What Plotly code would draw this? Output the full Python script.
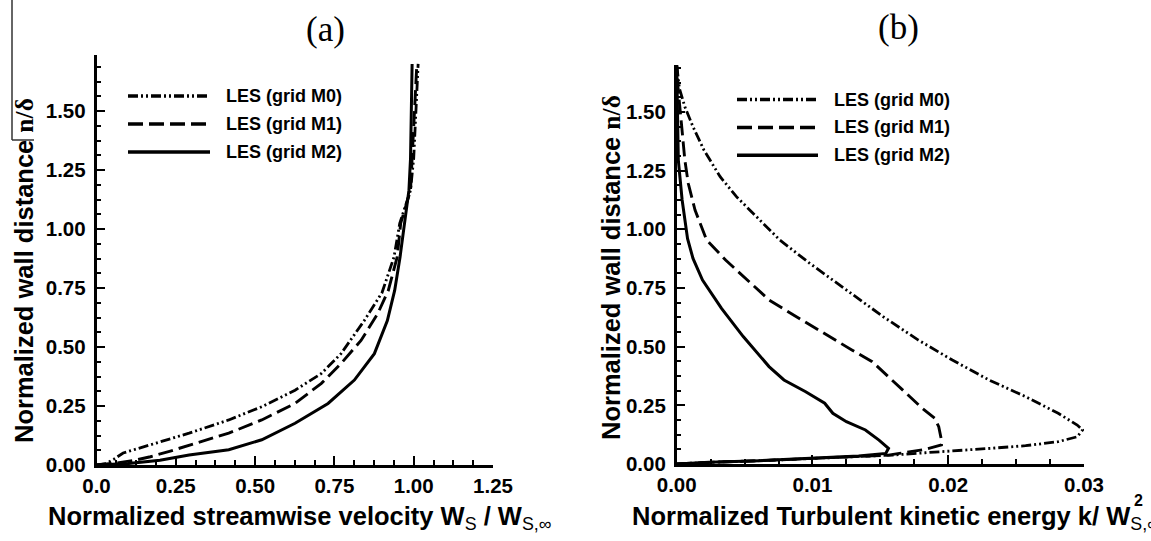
import plotly.graph_objects as go

# ---------------- data: panel (a) streamwise velocity profiles ----------------
a_m0_x = [0, 0.03, 0.055, 0.084, 0.188, 0.292, 0.417, 0.521, 0.626, 0.709, 0.771, 0.844, 0.9, 0.938, 0.956, 0.99, 1.0, 1.008, 1.014]
a_m0_y = [0, 0.006, 0.025, 0.051, 0.093, 0.135, 0.191, 0.247, 0.317, 0.388, 0.472, 0.612, 0.73, 0.882, 1.024, 1.165, 1.30, 1.5, 1.70]

a_m1_x = [0, 0.06, 0.12, 0.17, 0.23, 0.313, 0.417, 0.521, 0.626, 0.709, 0.771, 0.834, 0.886, 0.92, 0.948, 0.959, 0.99, 0.995, 1.003, 1.01]
a_m1_y = [0, 0.008, 0.02, 0.035, 0.058, 0.093, 0.135, 0.191, 0.261, 0.346, 0.43, 0.528, 0.64, 0.74, 0.882, 1.024, 1.165, 1.30, 1.5, 1.70]

a_m2_x = [0, 0.1, 0.2, 0.292, 0.417, 0.521, 0.626, 0.73, 0.813, 0.876, 0.917, 0.94, 0.957, 0.971, 0.985, 0.99, 0.992, 0.995]
a_m2_y = [0, 0.006, 0.02, 0.042, 0.065, 0.107, 0.177, 0.261, 0.36, 0.472, 0.612, 0.74, 0.882, 1.024, 1.165, 1.30, 1.5, 1.70]

# ---------------- data: panel (b) turbulent kinetic energy profiles ----------------
b_m0_k = [0, 0.0024, 0.0061, 0.0098, 0.0134, 0.0159, 0.0183, 0.0208, 0.0232, 0.0257, 0.0281, 0.0295, 0.0299,
          0.0295, 0.0281, 0.0257, 0.023, 0.0203, 0.0178, 0.0152, 0.0125, 0.0098, 0.0076, 0.0059, 0.0044,
          0.0032, 0.002, 0.0012, 0.0006, 0.0002, 0]
b_m0_y = [0, 0.007, 0.014, 0.023, 0.031, 0.038, 0.048, 0.057, 0.067, 0.078, 0.095, 0.116, 0.145,
          0.166, 0.216, 0.287, 0.358, 0.443, 0.528, 0.628, 0.741, 0.855, 0.954, 1.054, 1.139,
          1.224, 1.338, 1.437, 1.522, 1.6, 1.70]

b_m1_k = [0, 0.0024, 0.0061, 0.0098, 0.0134, 0.0156, 0.0164, 0.0183, 0.0195, 0.0195, 0.0193, 0.019, 0.0181,
          0.0169, 0.0156, 0.0144, 0.0129, 0.011, 0.009, 0.0068, 0.0053, 0.0036, 0.0022, 0.0019, 0.00135,
          0.00085, 0.0006, 0.00037, 0.0001, 0]
b_m1_y = [0, 0.007, 0.014, 0.024, 0.031, 0.038, 0.045, 0.0625, 0.081, 0.102, 0.159, 0.195, 0.237,
          0.301, 0.372, 0.436, 0.486, 0.55, 0.621, 0.699, 0.777, 0.869, 0.955, 0.997, 1.082,
          1.196, 1.295, 1.437, 1.6, 1.70]

b_m2_k = [0, 0.0024, 0.0061, 0.0098, 0.0134, 0.0154, 0.0156, 0.0149, 0.0139, 0.0125, 0.0115, 0.0109, 0.0095,
          0.0079, 0.0068, 0.0049, 0.0033, 0.0019, 0.0012, 0.0008, 0.0004, 0.00012, 0.00004, 0]
b_m2_y = [0, 0.007, 0.014, 0.024, 0.034, 0.045, 0.067, 0.102, 0.145, 0.18, 0.216, 0.259, 0.308,
          0.358, 0.415, 0.543, 0.663, 0.784, 0.876, 0.96, 1.125, 1.295, 1.5, 1.70]

series_names = ["LES (grid M0)", "LES (grid M1)", "LES (grid M2)"]
a_ticks = [0, 0.25, 0.5, 0.75, 1.0, 1.25]
a_ticktext = ["0.0", "0.25", "0.50", "0.75", "1.00", "1.25"]
b_ticks = [0, 0.01, 0.02, 0.03]
b_ticktext = ["0.00", "0.01", "0.02", "0.03"]
y_ticks = [0, 0.25, 0.5, 0.75, 1.0, 1.25, 1.5]
y_ticktext = ["0.00", "0.25", "0.50", "0.75", "1.00", "1.25", "1.50"]

# ---------------- styling ----------------
W, H = 1151, 541
def fx(p):
    return p / W
def fy(p):
    return 1 - p / H

DASH_M0 = "10px,3px,2px,3px,2px,3px"
DASH_M1 = "15px,6px"
styles = [dict(dash=DASH_M0, width=2.8), dict(dash=DASH_M1, width=2.9), dict(dash="solid", width=3.0)]

SANS = "Liberation Sans"
SERIF = "Liberation Serif"

fig = go.Figure()
a_data = [(a_m0_x, a_m0_y), (a_m1_x, a_m1_y), (a_m2_x, a_m2_y)]
b_data = [(b_m0_k, b_m0_y), (b_m1_k, b_m1_y), (b_m2_k, b_m2_y)]
for (xv, yv), st, nm in zip(a_data, styles, series_names):
    fig.add_trace(go.Scatter(x=xv, y=yv, mode="lines", name=nm, showlegend=False,
                             line=dict(color="black", **st), xaxis="x", yaxis="y"))
for (xv, yv), st, nm in zip(b_data, styles, series_names):
    fig.add_trace(go.Scatter(x=xv, y=yv, mode="lines", name=nm, showlegend=False,
                             line=dict(color="black", **st), xaxis="x2", yaxis="y2"))

tickfont = dict(family=SANS, size=20.5, color="black", weight="bold")
common = dict(showgrid=False, zeroline=False, showline=True, linecolor="black", linewidth=2.5,
              ticks="inside", ticklen=9, tickwidth=2, tickcolor="black", mirror=False,
              tickfont=tickfont, fixedrange=True, automargin=False)
minor_y = dict(dtick=0.0625, tick0=0, ticks="inside", ticklen=5, tickwidth=1.5, tickcolor="black")

fig.update_layout(
    template="none",
    width=W, height=H, autosize=False,
    margin=dict(l=0, r=0, t=0, b=0, pad=0, autoexpand=False),
    paper_bgcolor="white", plot_bgcolor="white",
    showlegend=False,
    xaxis=dict(domain=[fx(96.5), fx(493)], range=[0, 1.25], anchor="y",
               tickmode="array", tickvals=a_ticks, ticktext=a_ticktext,
               minor=dict(dtick=0.0625, tick0=0, ticks="inside", ticklen=5, tickwidth=1.5, tickcolor="black"),
               ticklabelstandoff=1, **common),
    yaxis=dict(domain=[fy(465), fy(55.2)], range=[0, 1.737], anchor="x",
               tickmode="array", tickvals=y_ticks, ticktext=y_ticktext,
               minor=minor_y, ticklabelstandoff=4, **common),
    xaxis2=dict(domain=[fx(676.7), fx(1084)], range=[0, 0.03], anchor="y2",
                tickmode="array", tickvals=b_ticks, ticktext=b_ticktext,
                minor=dict(dtick=0.0025, tick0=0, ticks="inside", ticklen=5, tickwidth=1.5, tickcolor="black"),
                ticklabelstandoff=1, **common),
    yaxis2=dict(domain=[fy(464), fy(65)], range=[0, 1.70], anchor="x2",
                tickmode="array", tickvals=y_ticks, ticktext=y_ticktext,
                minor=minor_y, ticklabelstandoff=4, **common),
)

annotations = []
shapes = []

def ann(text, x, y, font, xanchor="left", yanchor="middle", **kw):
    d = dict(text=text, x=fx(x), y=fy(y), xref="paper", yref="paper", showarrow=False,
             xanchor=xanchor, yanchor=yanchor, align=xanchor if xanchor != "center" else "center",
             font=font, borderpad=0)
    d.update(kw)
    annotations.append(d)

# panel labels
ann("(a)", 325, 29, dict(family=SERIF, size=35, color="black"), xanchor="center")
ann("(b)", 898, 28, dict(family=SERIF, size=35, color="black"), xanchor="center")

title_font = dict(family=SANS, size=25.5, color="black", weight="bold")
serif_span = "<span style=\"font-family:'Liberation Serif'\">n/δ</span>"
ytitle = "Normalized wall distance " + serif_span
ann(ytitle, 24, 271, title_font, xanchor="center", textangle=-90)
ann(ytitle, 611, 268, title_font, xanchor="center", textangle=-90)

sub_style = "<span style='font-weight:normal'>%s</span>"
ann("Normalized streamwise velocity W<sub>" + sub_style % "S" + "</sub> / W<sub>"
    + sub_style % "S,∞" + "</sub>", 47, 518, title_font)
ann("Normalized Turbulent kinetic energy k/ W<sub>" + sub_style % "S,∞" + "</sub>", 631, 518, title_font)
ann("2", 1133, 500, dict(family=SANS, size=16, color="black", weight="bold"))

# legends (drawn as line samples + labels)
leg_font = dict(family=SANS, size=18, color="black", weight="bold")
for (lx0, lx1, tx, rows) in [(128, 210, 225, (96, 124, 152)), (737, 818, 833, (99.5, 127.5, 155.3))]:
    for st, nm, ry in zip(styles, series_names, rows):
        shapes.append(dict(type="line", xref="paper", yref="paper", x0=fx(lx0), x1=fx(lx1), y0=fy(ry), y1=fy(ry),
                           line=dict(color="black", width=st["width"] + 0.5, dash=st["dash"])))
        ann(nm, tx, ry, leg_font)

# scan edge marks at the top-left corner of the page
shapes.append(dict(type="line", xref="paper", yref="paper", x0=fx(12), x1=fx(12), y0=fy(0), y1=fy(140),
                   line=dict(color="#333333", width=1.5)))
shapes.append(dict(type="line", xref="paper", yref="paper", x0=fx(12), x1=fx(34), y0=fy(140), y1=fy(140),
                   line=dict(color="#333333", width=1.5)))

fig.update_layout(annotations=annotations, shapes=shapes)
fig.write_html("out.html")
